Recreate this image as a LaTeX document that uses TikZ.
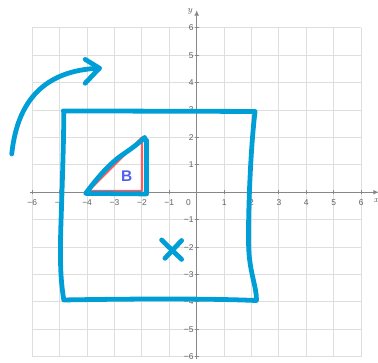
\documentclass[tikz,border=0pt]{standalone}
\usepackage{fontspec}
\setsansfont{Liberation Sans}
\usetikzlibrary{arrows.meta}
\definecolor{pen}{RGB}{0,158,214}
\definecolor{redpen}{RGB}{255,90,90}
\definecolor{letter}{RGB}{80,96,235}
\definecolor{gridc}{RGB}{222,222,222}
\definecolor{axisc}{RGB}{135,135,135}
\definecolor{labc}{RGB}{95,95,95}
\tikzset{
  penline/.style={draw=pen,line width=3.4pt,line cap=round,line join=round},
  redline/.style={draw=redpen,line width=1.6pt,line join=round},
  gridline/.style={draw=gridc,line width=0.6pt},
  axisline/.style={draw=axisc,line width=1pt},
  ticklab/.style={text=labc,font=\sffamily\fontsize{6}{6}\selectfont,inner sep=0.5pt}
}
\begin{document}
\begin{tikzpicture}[x=0.685cm,y=0.685cm]
\useasboundingbox (-7.179,-6.230) rectangle (6.617,7.018);
% grid
\foreach \i in {-6,...,6}{
  \draw[gridline] (\i,-6) -- (\i,6);
  \draw[gridline] (-6,\i) -- (6,\i);
}
% axes
\coordinate (xs) at (-6.1,0);
\coordinate (xe) at (6.65,0);
\coordinate (ys) at (0,-6.1);
\coordinate (ye) at (0,6.65);
\draw[axisline,-{Latex[length=4pt,width=3.5pt]}] (xs) -- (xe);
\draw[axisline,-{Latex[length=4pt,width=3.5pt]}] (ys) -- (ye);
\node[ticklab,font=\itshape\fontsize{6.5}{6.5}\selectfont] (xl) at (6.55,-0.3) {x};
\node[ticklab,font=\itshape\fontsize{6.5}{6.5}\selectfont] (yl) at (-0.25,6.6) {y};
% ticks and labels
\foreach \i in {-6,...,-1,1,2,...,6}{
  \draw[axisline,line width=0.6pt] (\i,-0.07) -- (\i,0.07);
  \draw[axisline,line width=0.6pt] (-0.07,\i) -- (0.07,\i);
  \node[ticklab] (xt\i) at (\i,-0.36) {\ifnum\i<0 −\fi\the\numexpr\ifnum\i<0 -\fi\i\relax};
  \node[ticklab,anchor=east] (yt\i) at (-0.08,\i) {\ifnum\i<0 −\fi\the\numexpr\ifnum\i<0 -\fi\i\relax};
}
\node[ticklab] (o) at (-0.3,-0.36) {0};
% red triangle
\draw[redline] (-3.95,0.05) -- (-2,2) -- (-2,0.05) -- cycle;
% blue triangle over it
\draw[penline] (-1.9,2.0) .. controls (-2.3,1.6) and (-2.8,1.35) .. (-3.05,1.1)
  .. controls (-3.4,0.8) and (-3.8,0.3) .. (-4.05,-0.04) -- (-1.83,-0.06) -- (-1.83,1.9);
\node[text=letter,font=\sffamily\bfseries\fontsize{11}{11}\selectfont] (b) at (-2.55,0.58) {B};
% square
\draw[penline] (-4.87,2.97) -- (2.13,2.95)
  .. controls (1.95,1.5) and (1.86,-1.2) .. (1.9,-2.1)
  .. controls (1.95,-3.0) and (2.2,-3.5) .. (2.18,-3.95)
  .. controls (0,-3.86) and (-3,-3.9) .. (-4.85,-3.93)
  .. controls (-4.97,-3.2) and (-5.0,-2.5) .. (-4.95,-1.0)
  .. controls (-4.9,0.5) and (-4.85,2.0) .. (-4.85,2.97);
% x mark
\coordinate (xa) at (-1.28,-1.74);
\coordinate (xb) at (-0.55,-2.45);
\coordinate (xc) at (-0.55,-1.76);
\coordinate (xd) at (-1.16,-2.41);
\draw[penline] (xa) -- (xb);
\draw[penline] (xc) -- (xd);
% curved arrow
\coordinate (as) at (-6.75,1.40);
\coordinate (ae) at (-3.55,4.53);
\coordinate (au) at (-4.07,4.85);
\coordinate (al) at (-4.07,3.98);
\draw[penline] (as) .. controls (-6.55,3.3) and (-5.6,4.45) .. (ae);
\draw[penline] (au) -- (ae) -- (al);
\end{tikzpicture}
\end{document}
